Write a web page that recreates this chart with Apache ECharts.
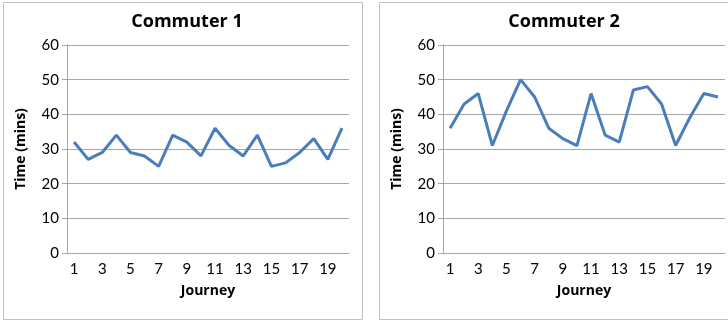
<!DOCTYPE html>
<html>
<head>
<meta charset="utf-8">
<script src="https://cdn.jsdelivr.net/npm/echarts@6/dist/echarts.min.js"></script>
<style>
  html, body { margin: 0; padding: 0; background: #fff; }
  #chart { width: 728px; height: 322px; }
</style>
</head>
<body>
<div id="chart"></div>
<script>
// Journey numbers 1..20
const journeys = ['1','2','3','4','5','6','7','8','9','10','11','12','13','14','15','16','17','18','19','20'];
// Journey times in minutes
const commuter1 = [32, 27, 29, 34, 29, 28, 25, 34, 32, 28, 36, 31, 28, 34, 25, 26, 29, 33, 27, 36];
const commuter2 = [36, 43, 46, 31, 41, 50, 45, 36, 33, 31, 46, 34, 32, 47, 48, 43, 31, 39, 46, 45];
const panelTitles = ['Commuter 1', 'Commuter 2'];
const yTicks = { min: 0, max: 60, interval: 10 };

const FONT = 'Lato';
const BOLD_FONT = 'Open Sans';
const lineBlue = '#4a7ebb';
const gridGray = '#a6a6a6';

function xAxisFor(i) {
  return {
    type: 'category', gridIndex: i, data: journeys, boundaryGap: true,
    name: 'Journey', nameLocation: 'middle', nameGap: 31,
    nameTextStyle: { fontFamily: BOLD_FONT, fontWeight: 'bold', fontSize: 14, color: '#000' },
    axisLine: { lineStyle: { color: gridGray, width: 1 } },
    axisTick: { interval: 0, length: 4, lineStyle: { color: gridGray } },
    axisLabel: { interval: 1, margin: 9, fontFamily: FONT, fontSize: 15, color: '#000' },
    splitLine: { show: false }
  };
}

function yAxisFor(i) {
  return {
    type: 'value', gridIndex: i, min: yTicks.min, max: yTicks.max, interval: yTicks.interval,
    name: 'Time (mins)', nameLocation: 'middle', nameGap: 39,
    nameTextStyle: { fontFamily: BOLD_FONT, fontWeight: 'bold', fontSize: 14, color: '#000' },
    axisLine: { show: true, lineStyle: { color: gridGray, width: 1 } },
    axisTick: { show: true, length: 5, lineStyle: { color: gridGray } },
    axisLabel: { margin: 8, fontFamily: FONT, fontSize: 15, color: '#000' },
    splitLine: { show: true, lineStyle: { color: gridGray, width: 1 } }
  };
}

const chart = echarts.init(document.getElementById('chart'), null, { renderer: 'canvas' });
chart.setOption({
  animation: false,
  backgroundColor: '#fff',
  graphic: [
    { type: 'rect', shape: { x: 3.5, y: 2.5, width: 359, height: 317 }, style: { fill: 'none', stroke: '#bfbfbf', lineWidth: 1 }, silent: true },
    { type: 'rect', shape: { x: 379.5, y: 2.5, width: 360, height: 317 }, style: { fill: 'none', stroke: '#bfbfbf', lineWidth: 1 }, silent: true }
  ],
  title: [
    { text: panelTitles[0], left: 182, top: 8, textAlign: 'center',
      textStyle: { fontFamily: BOLD_FONT, fontWeight: 'bold', fontSize: 18, color: '#000' } },
    { text: panelTitles[1], left: 559, top: 8, textAlign: 'center',
      textStyle: { fontFamily: BOLD_FONT, fontWeight: 'bold', fontSize: 18, color: '#000' } }
  ],
  grid: [
    { left: 67, right: 379, top: 45, bottom: 69 },
    { left: 443, right: 3, top: 45, bottom: 69 }
  ],
  xAxis: [xAxisFor(0), xAxisFor(1)],
  yAxis: [yAxisFor(0), yAxisFor(1)],
  series: [
    { type: 'line', xAxisIndex: 0, yAxisIndex: 0, data: commuter1, symbol: 'none',
      lineStyle: { color: lineBlue, width: 3 } },
    { type: 'line', xAxisIndex: 1, yAxisIndex: 1, data: commuter2, symbol: 'none',
      lineStyle: { color: lineBlue, width: 3 } }
  ]
});
</script>
</body>
</html>
